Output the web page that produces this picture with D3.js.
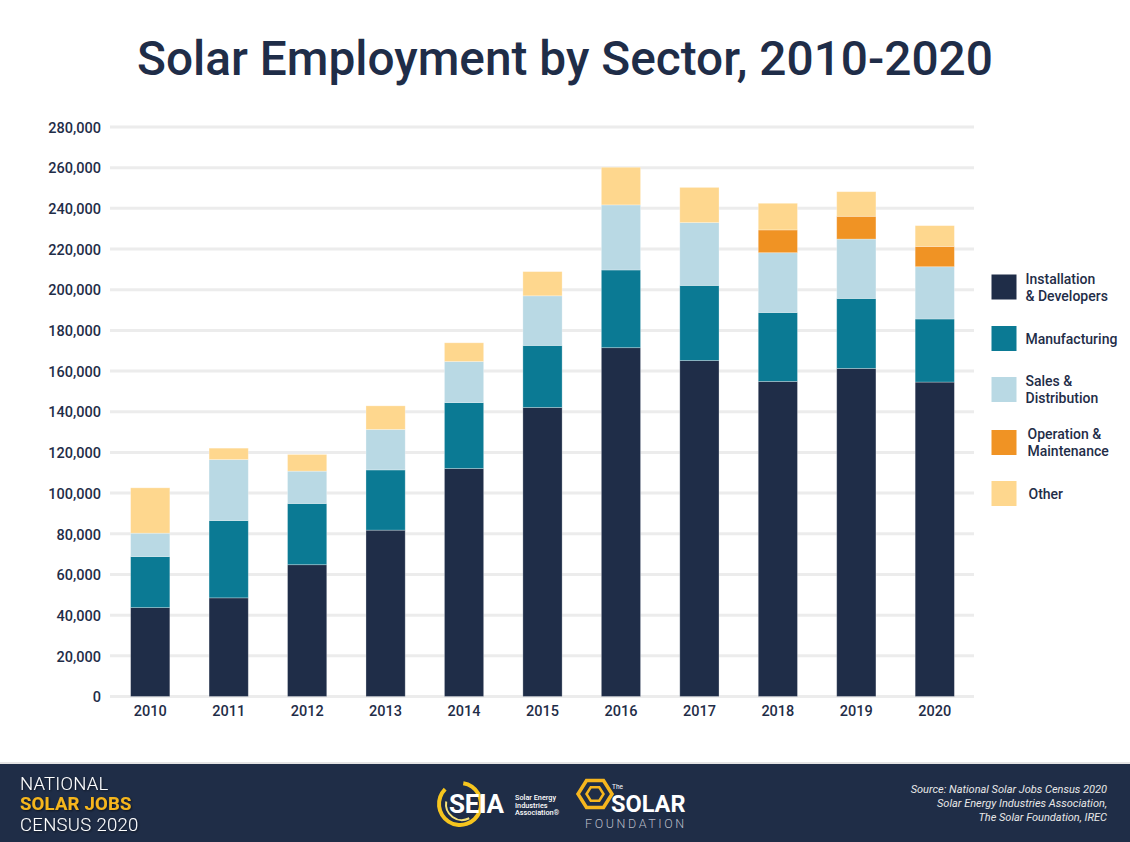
<!DOCTYPE html>
<html>
<head>
<meta charset="utf-8">
<script src="https://cdn.jsdelivr.net/npm/d3@7"></script>
<style>
  html, body { margin: 0; padding: 0; background: #fff; }
  svg { display: block; font-family: Roboto, "Noto Sans", sans-serif; }
</style>
</head>
<body>
<svg id="chart" width="1130" height="842"></svg>
<script>
const years = ["2010","2011","2012","2013","2014","2015","2016","2017","2018","2019","2020"];
const installation  = [43700, 48500, 64800, 81800, 112100, 142100, 171500, 165200, 154900, 161300, 154600];
const manufacturing = [25100, 38000, 30100, 29600, 32400, 30500, 38200, 36900, 33900, 34400, 31000];
const sales         = [11500, 30000, 15900, 19900, 20200, 24400, 32000, 30900, 29400, 29200, 25700];
const operation     = [0, 0, 0, 0, 0, 0, 0, 0, 11200, 11200, 10000];
const other         = [22300, 5600, 8200, 11600, 9200, 11900, 18500, 17300, 13100, 12100, 10200];
const yTicks = [0, 20000, 40000, 60000, 80000, 100000, 120000, 140000, 160000, 180000, 200000, 220000, 240000, 260000, 280000];

const seriesKeys = ["installation", "manufacturing", "sales", "operation", "other"];
const seriesLabels = [["Installation", "& Developers"], ["Manufacturing"], ["Sales &", "Distribution"], ["Operation &", "Maintenance"], ["Other"]];
const seriesColors = ["#1f2d48", "#0b7a94", "#b9d9e4", "#f09324", "#fed78e"];

const table = years.map((y, i) => ({
  year: y,
  installation: installation[i],
  manufacturing: manufacturing[i],
  sales: sales[i],
  operation: operation[i],
  other: other[i]
}));

const svg = d3.select("#chart");
const dark = "#1f2d48";

// Title
svg.append("text")
  .attr("x", 565).attr("y", 75)
  .attr("text-anchor", "middle")
  .attr("font-size", 47.8).attr("font-weight", 500)
  .attr("fill", dark)
  .text("Solar Employment by Sector, 2010-2020");

const x = d3.scaleBand().domain(years).range([111, 974]).paddingInner(0.5).paddingOuter(0.25);
const y = d3.scaleLinear().domain([0, 280000]).range([696.5, 127]);

// Y axis labels
const yAxis = d3.axisLeft(y).tickValues(yTicks).tickSize(0).tickPadding(0)
  .tickFormat(d3.format(","));
const gy = svg.append("g").attr("transform", "translate(101,0)").call(yAxis);
gy.select(".domain").remove();
gy.selectAll("text")
  .attr("font-family", "Roboto, sans-serif")
  .attr("font-size", 14.5).attr("font-weight", 500)
  .attr("fill", dark).attr("dy", "0.36em");

// Grid lines
svg.append("g").selectAll("line").data(yTicks).join("line")
  .attr("x1", 110).attr("x2", 974)
  .attr("y1", d => y(d)).attr("y2", d => y(d))
  .attr("stroke", "#ececec").attr("stroke-width", 3);

// Stacked bars
const stack = d3.stack().keys(seriesKeys)(table);
const colorScale = d3.scaleOrdinal().domain(seriesKeys).range(seriesColors);

svg.append("g").selectAll("g").data(stack).join("g")
  .attr("fill", d => colorScale(d.key))
  .selectAll("rect").data(d => d.filter(p => p[1] - p[0] > 0)).join("rect")
  .attr("x", d => x(d.data.year))
  .attr("width", x.bandwidth())
  .attr("y", d => y(d[1]))
  .attr("height", d => y(d[0]) - y(d[1]))
  .attr("stroke", "rgba(255,255,255,0.35)")
  .attr("stroke-width", 0.8);

// X axis labels
const xAxis = d3.axisBottom(x).tickSize(0).tickPadding(0);
const gx = svg.append("g").attr("transform", "translate(0,716)").call(xAxis);
gx.select(".domain").remove();
gx.selectAll("text")
  .attr("font-family", "Roboto, sans-serif")
  .attr("font-size", 14.5).attr("font-weight", 500)
  .attr("fill", dark).attr("dy", 0);

// Legend
const legendTop = [274.5, 326, 377, 430, 481];
const lg = svg.append("g");
seriesKeys.forEach((k, i) => {
  const g = lg.append("g");
  g.append("rect")
    .attr("x", 991.5).attr("y", legendTop[i])
    .attr("width", 25).attr("height", 25)
    .attr("fill", seriesColors[i]);
  const lines = seriesLabels[i];
  const cy = legendTop[i] + 12.5;
  const t = g.append("text")
    .attr("font-size", 14).attr("font-weight", 500).attr("fill", dark);
  lines.forEach((ln, j) => {
    t.append("tspan")
      .attr("x", i === 4 ? 1028.5 : (i === 3 ? 1027.5 : 1025.5))
      .attr("y", cy + 5 + (j - (lines.length - 1) / 2) * 17)
      .text(ln);
  });
});

// Footer
svg.append("rect").attr("x", 0).attr("y", 762).attr("width", 1130).attr("height", 2).attr("fill", "#e4e4e4");
svg.append("rect").attr("x", 0).attr("y", 764).attr("width", 1130).attr("height", 78).attr("fill", "#1f2d47");

const defs = svg.append("defs");
const f = defs.append("filter").attr("id", "shadow").attr("x", "-10%").attr("y", "-20%").attr("width", "130%").attr("height", "150%");
f.append("feDropShadow").attr("dx", 1).attr("dy", 1).attr("stdDeviation", 1).attr("flood-color", "#000").attr("flood-opacity", 0.6);

const fl = svg.append("g").attr("filter", "url(#shadow)");
fl.append("text").attr("x", 20).attr("y", 790).attr("font-size", 18.5).attr("font-weight", 300).attr("fill", "#ffffff").attr("letter-spacing", 0.2).text("NATIONAL");
fl.append("text").attr("x", 20).attr("y", 810).attr("font-size", 18.5).attr("font-weight", 700).attr("fill", "#f6b61e").attr("letter-spacing", 0.2).text("SOLAR JOBS");
fl.append("text").attr("x", 20).attr("y", 831).attr("font-size", 18.5).attr("font-weight", 300).attr("fill", "#ffffff").attr("letter-spacing", 0.3).text("CENSUS 2020");

// SEIA logo
const seia = svg.append("g");
seia.append("path")
  .attr("d", d3.arc()({innerRadius: 19, outerRadius: 23, startAngle: Math.PI * 0.05, endAngle: Math.PI * 1.75}))
  .attr("transform", "translate(460,804)")
  .attr("fill", "#f6c51e");
seia.append("path")
  .attr("d", d3.arc()({innerRadius: 15, outerRadius: 17, startAngle: Math.PI * 0.85, endAngle: Math.PI * 1.55}))
  .attr("transform", "translate(462,804)")
  .attr("fill", "#f6e27a");
seia.append("text").attr("x", 449).attr("y", 813).attr("font-size", 26).attr("font-weight", 700).attr("fill", "#ffffff").attr("letter-spacing", -0.3).text("SEIA");
const seiaSmall = seia.append("text").attr("font-size", 7.3).attr("font-weight", 500).attr("fill", "#ffffff");
["Solar Energy", "Industries", "Association\u00AE"].forEach((s, i) => {
  seiaSmall.append("tspan").attr("x", 515).attr("y", 800 + i * 7.5).text(s);
});

// The Solar Foundation logo
const tsf = svg.append("g");
const hex = (cx, cy, r) => d3.range(6).map(i => {
  const a = Math.PI / 3 * i;
  return [cx + r * Math.cos(a), cy + r * Math.sin(a) * 0.92];
});
tsf.append("path").attr("d", d3.line()(hex(595, 794, 17)) + "Z").attr("fill", "none").attr("stroke", "#f6b61e").attr("stroke-width", 3.5);
tsf.append("path").attr("d", d3.line()(hex(595, 794, 8.5)) + "Z").attr("fill", "none").attr("stroke", "#f6b61e").attr("stroke-width", 2.5);
tsf.append("text").attr("x", 612).attr("y", 789).attr("font-size", 6.5).attr("fill", "#ffffff").text("The");
tsf.append("text").attr("x", 611).attr("y", 812).attr("font-size", 23.5).attr("font-weight", 700).attr("fill", "#ffffff").text("SOLAR");
tsf.append("text").attr("x", 585).attr("y", 828).attr("font-size", 12.5).attr("font-weight", 300).attr("fill", "#b8bcc6").attr("letter-spacing", 2.6).text("FOUNDATION");

// Source
const src = svg.append("text").attr("text-anchor", "end").attr("font-size", 11).attr("font-style", "italic").attr("fill", "#e8e8e8");
["Source: National Solar Jobs Census 2020", "Solar Energy Industries Association,", "The Solar Foundation, IREC"].forEach((s, i) => {
  src.append("tspan").attr("x", 1107).attr("y", 793 + i * 14).text(s);
});
</script>
</body>
</html>
